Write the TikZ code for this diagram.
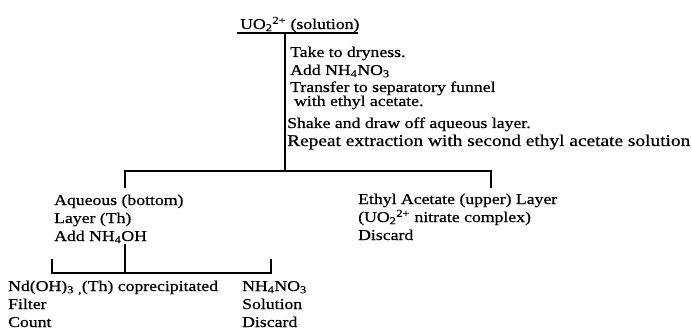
\documentclass[tikz,border=0pt]{standalone}
\usepackage{fontspec}
\setmainfont{Liberation Serif}[FakeStretch=1.18,FakeBold=0.6]
\begin{document}
\begin{tikzpicture}[x=1pt,y=-1pt,
  txt/.style={anchor=base west,inner sep=0pt,font=\fontsize{15}{17}\selectfont},
  big/.style={anchor=base west,inner sep=0pt,font=\fontsize{16.4}{18}\selectfont},
  ln/.style={line width=1.3pt,black}]
\path[use as bounding box,fill=white] (0,0) rectangle (692,331);
% top
\node[txt] (uo) at (240,29) {UO\textsubscript{2}\textsuperscript{2+} (solution)};
\coordinate (ulL) at (237,33);
\coordinate (ulR) at (358,33);
\coordinate (v1top) at (285,33);
\coordinate (v1bot) at (285,171);
\node[txt] (t1) at (290,57) {Take to dryness.};
\node[txt] (t2) at (290,75) {Add NH\textsubscript{4}NO\textsubscript{3}};
\node[txt] (t3) at (290,92) {Transfer to separatory funnel};
\node[txt] (t4) at (294,106) {with ethyl acetate.};
\node[txt] (t5) at (287,128) {Shake and draw off aqueous layer.};
\node[big] (t6) at (287,146) {Repeat extraction with second ethyl acetate solution};
% first split
\coordinate (h1L) at (125,171);
\coordinate (h1R) at (491,171);
\coordinate (h1Ld) at (125,188);
\coordinate (h1Rd) at (491,188);
\node[txt] (a1) at (54,205) {Aqueous (bottom)};
\node[txt] (a2) at (54,223) {Layer (Th)};
\node[txt] (a3) at (54,241) {Add NH\textsubscript{4}OH};
\node[txt] (e1) at (358,204) {Ethyl Acetate (upper) Layer};
\node[txt] (e2) at (358,222) {(UO\textsubscript{2}\textsuperscript{2+} nitrate complex)};
\node[txt] (e3) at (358,240) {Discard};
% second split
\coordinate (v2top) at (125,244);
\coordinate (v2bot) at (125,273);
\coordinate (h2L) at (52,273);
\coordinate (h2R) at (271,273);
\coordinate (h2Lu) at (52,259);
\coordinate (h2Ru) at (271,259);
\node[txt] (n1) at (8,291) {Nd(OH)\textsubscript{3} \textsubscript{,}(Th) coprecipitated};
\node[txt] (n2) at (8,309) {Filter};
\node[txt] (n3) at (8,327) {Count};
\node[txt] (s1) at (242,291) {NH\textsubscript{4}NO\textsubscript{3}};
\node[txt] (s2) at (242,309) {Solution};
\node[txt] (s3) at (242,327) {Discard};
% lines
\draw[ln] (ulL) -- (ulR);
\draw[ln] (v1top) -- (v1bot);
\draw[ln] (h1Ld) -- (h1L) -- (h1R) -- (h1Rd);
\draw[ln] (v2top) -- (v2bot);
\draw[ln] (h2Lu) -- (h2L) -- (h2R) -- (h2Ru);
\end{tikzpicture}
\end{document}
